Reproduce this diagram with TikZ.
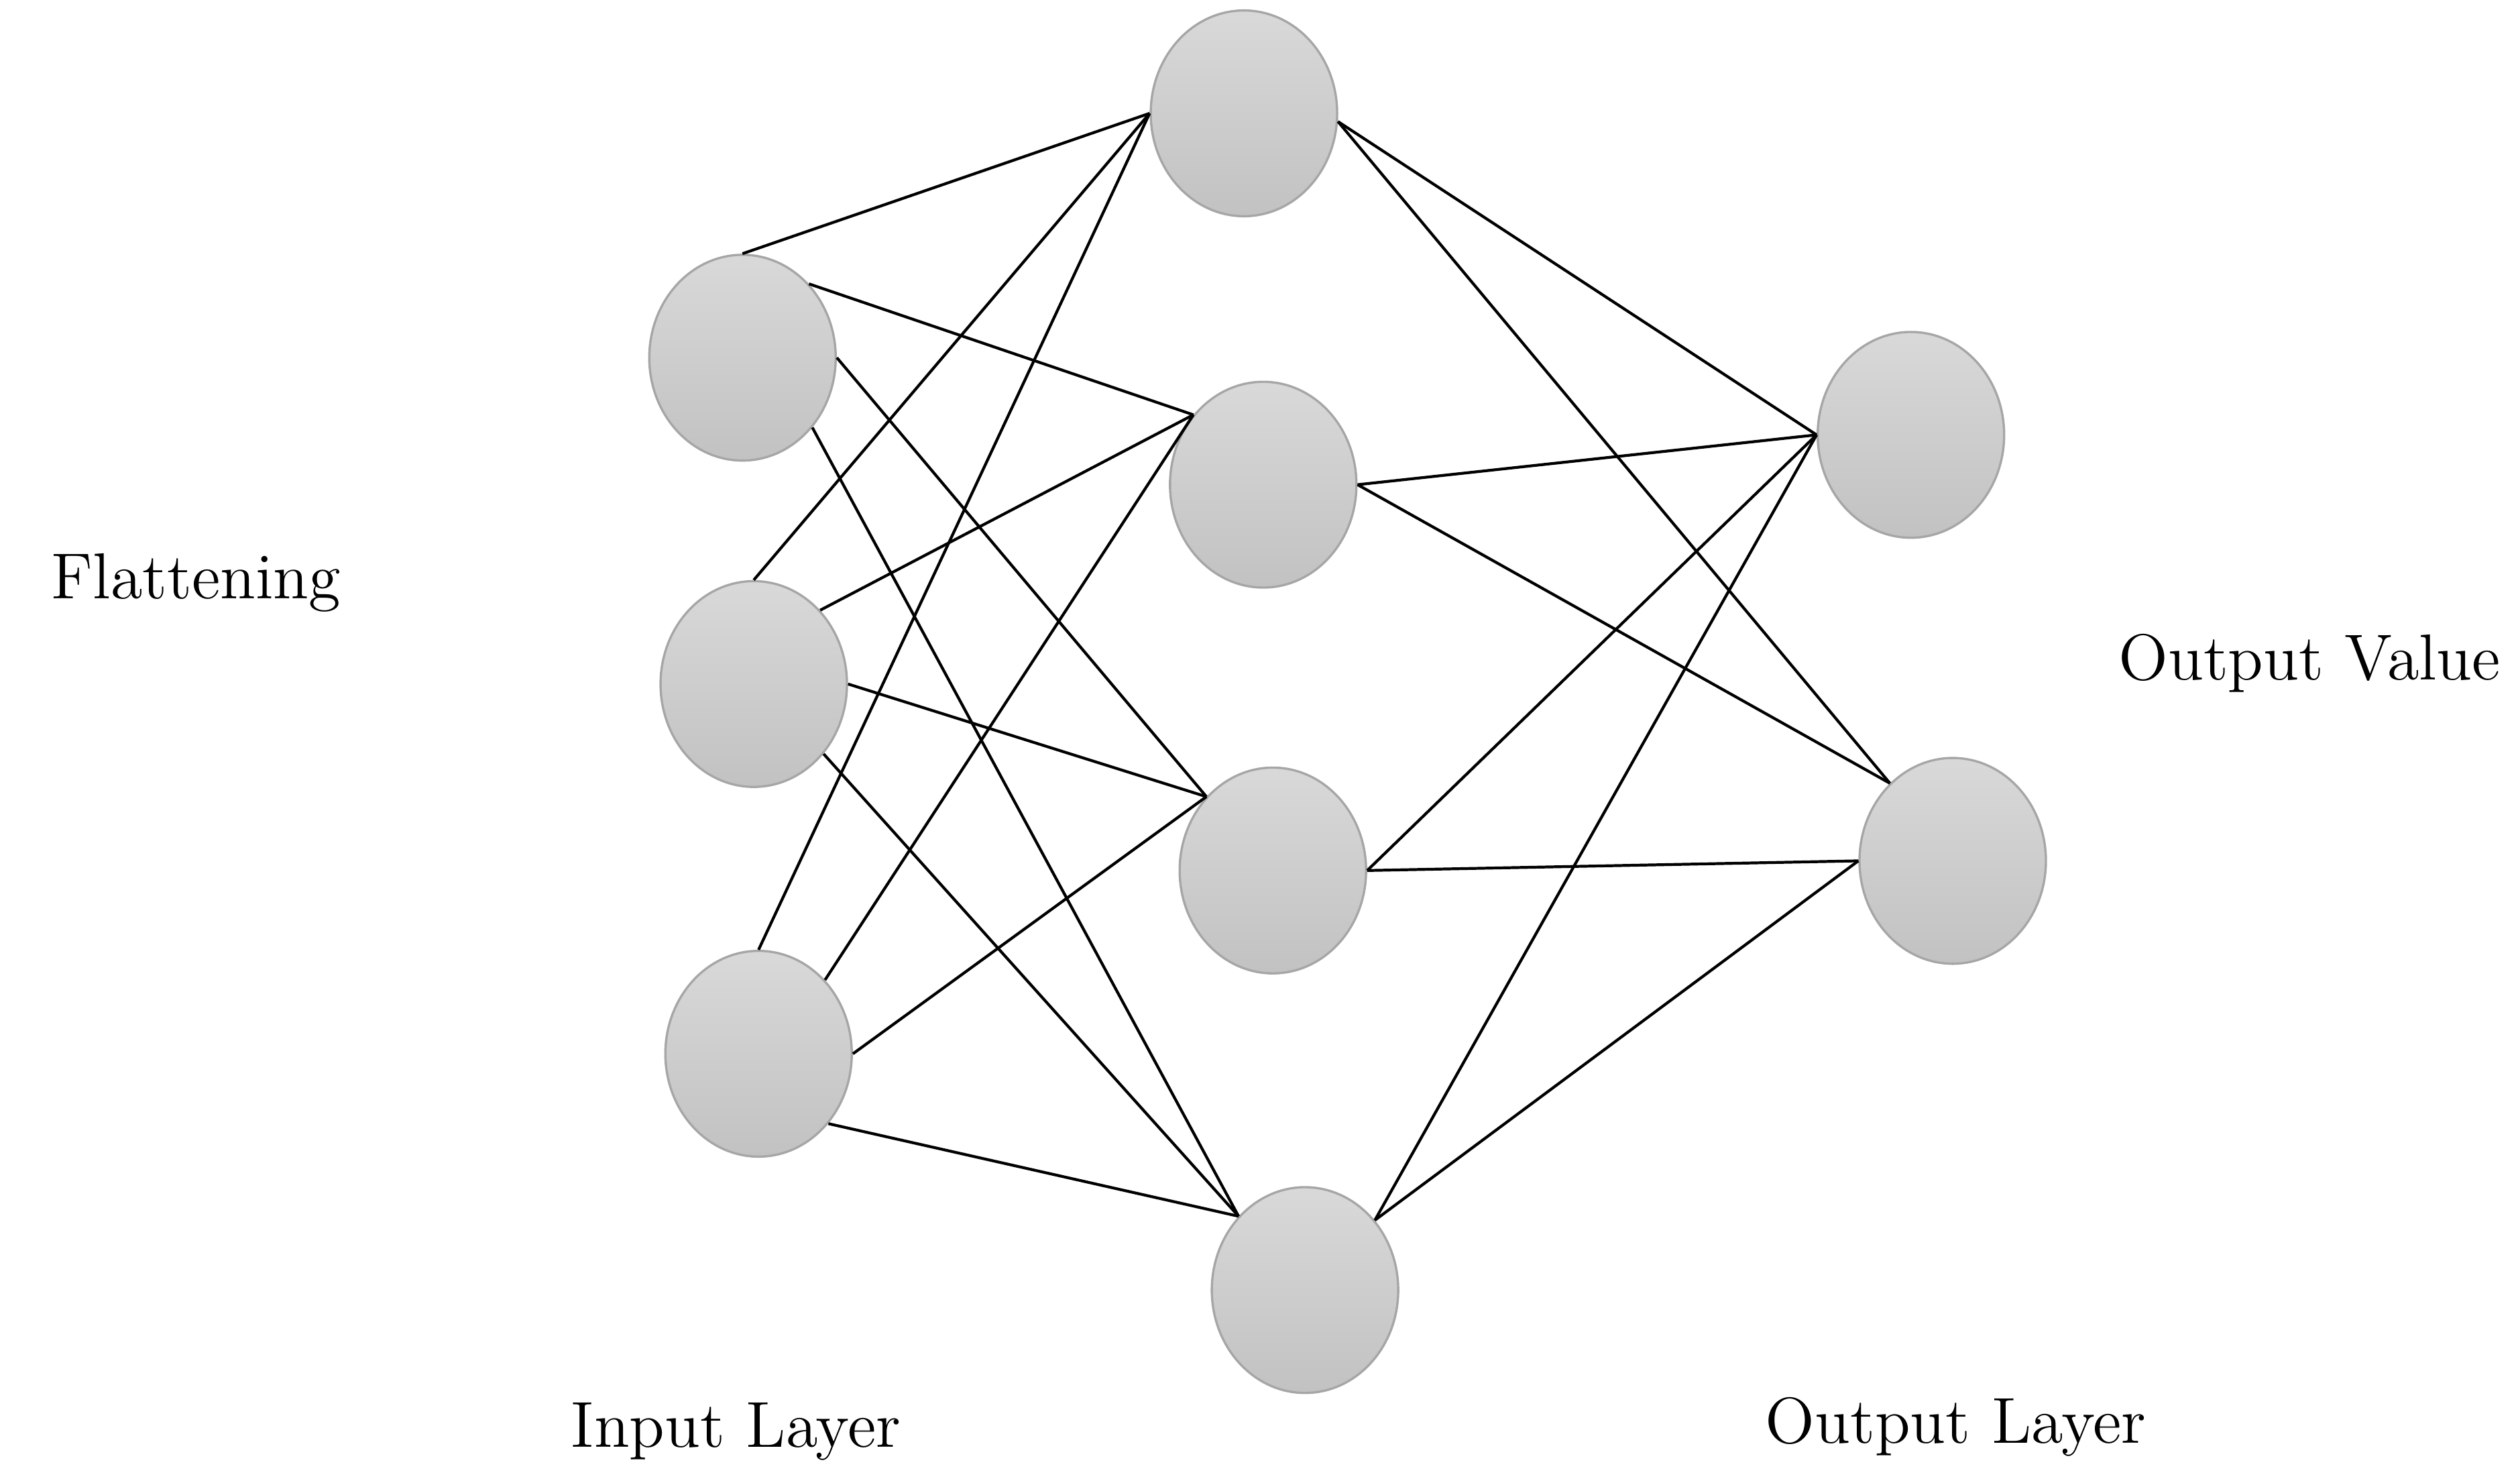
\documentclass[tikz,border=0pt]{standalone}
\usetikzlibrary{shapes.geometric,arrows.meta}
\begin{document}
\begin{tikzpicture}[x=1cm,y=1cm,
  neuron/.style={ellipse,minimum width=1.16cm,minimum height=1.28cm,draw=gray!70,line width=0.4pt,top color=gray!30,bottom color=gray!48,inner sep=0pt},
  con/.style={black,line width=0.5pt},
  lbl/.style={font=\fontsize{11.5}{13}\selectfont}]
\useasboundingbox (0,0) rectangle (15.68,9.225);
\def\P(#1,#2){(#1/100,{(922-#2)/100})}
\node[neuron] (i1) at \P(462,222) {};
\node[neuron] (i2) at \P(469,425) {};
\node[neuron] (i3) at \P(472,655) {};
\node[neuron] (h1) at \P(774,70) {};
\node[neuron] (h2) at \P(786,301) {};
\node[neuron] (h3) at \P(792,541) {};
\node[neuron] (h4) at \P(812,802) {};
\node[neuron] (o1) at \P(1189,270) {};
\node[neuron] (o2) at \P(1215,535) {};
\foreach \i in {i1,i2,i3}{
  \draw[con] (\i.90) -- (h1.180);
  \draw[con] (\i.48) -- (h2.135);
  \draw[con] (\i.0) -- (h3.132);
  \draw[con] (\i.-45) -- (h4.132);
}
\draw[con] (h1.-5) -- (o1.180);
\draw[con] (h1.-5) -- (o2.129);
\draw[con] (h2.0) -- (o1.180);
\draw[con] (h2.0) -- (o2.129);
\draw[con] (h3.0) -- (o1.180);
\draw[con] (h3.0) -- (o2.180);
\draw[con] (h4.45) -- (o1.180);
\draw[con] (h4.45) -- (o2.180);
\coordinate (a0) at \P(8,445);
\coordinate (a1) at \P(320,445);
\draw[line width=0.5pt,-{Triangle[length=0.3cm,width=0.22cm]}] (a0) -- (a1);
\node[lbl] (fl) at \P(122,362) {Flattening};
\node[lbl] (il) at \P(458,890) {Input Layer};
\node[lbl] (ol) at \P(1217,887) {Output Layer};
\node[lbl] (ov) at \P(1437,412) {Output Value};
\end{tikzpicture}
\end{document}
